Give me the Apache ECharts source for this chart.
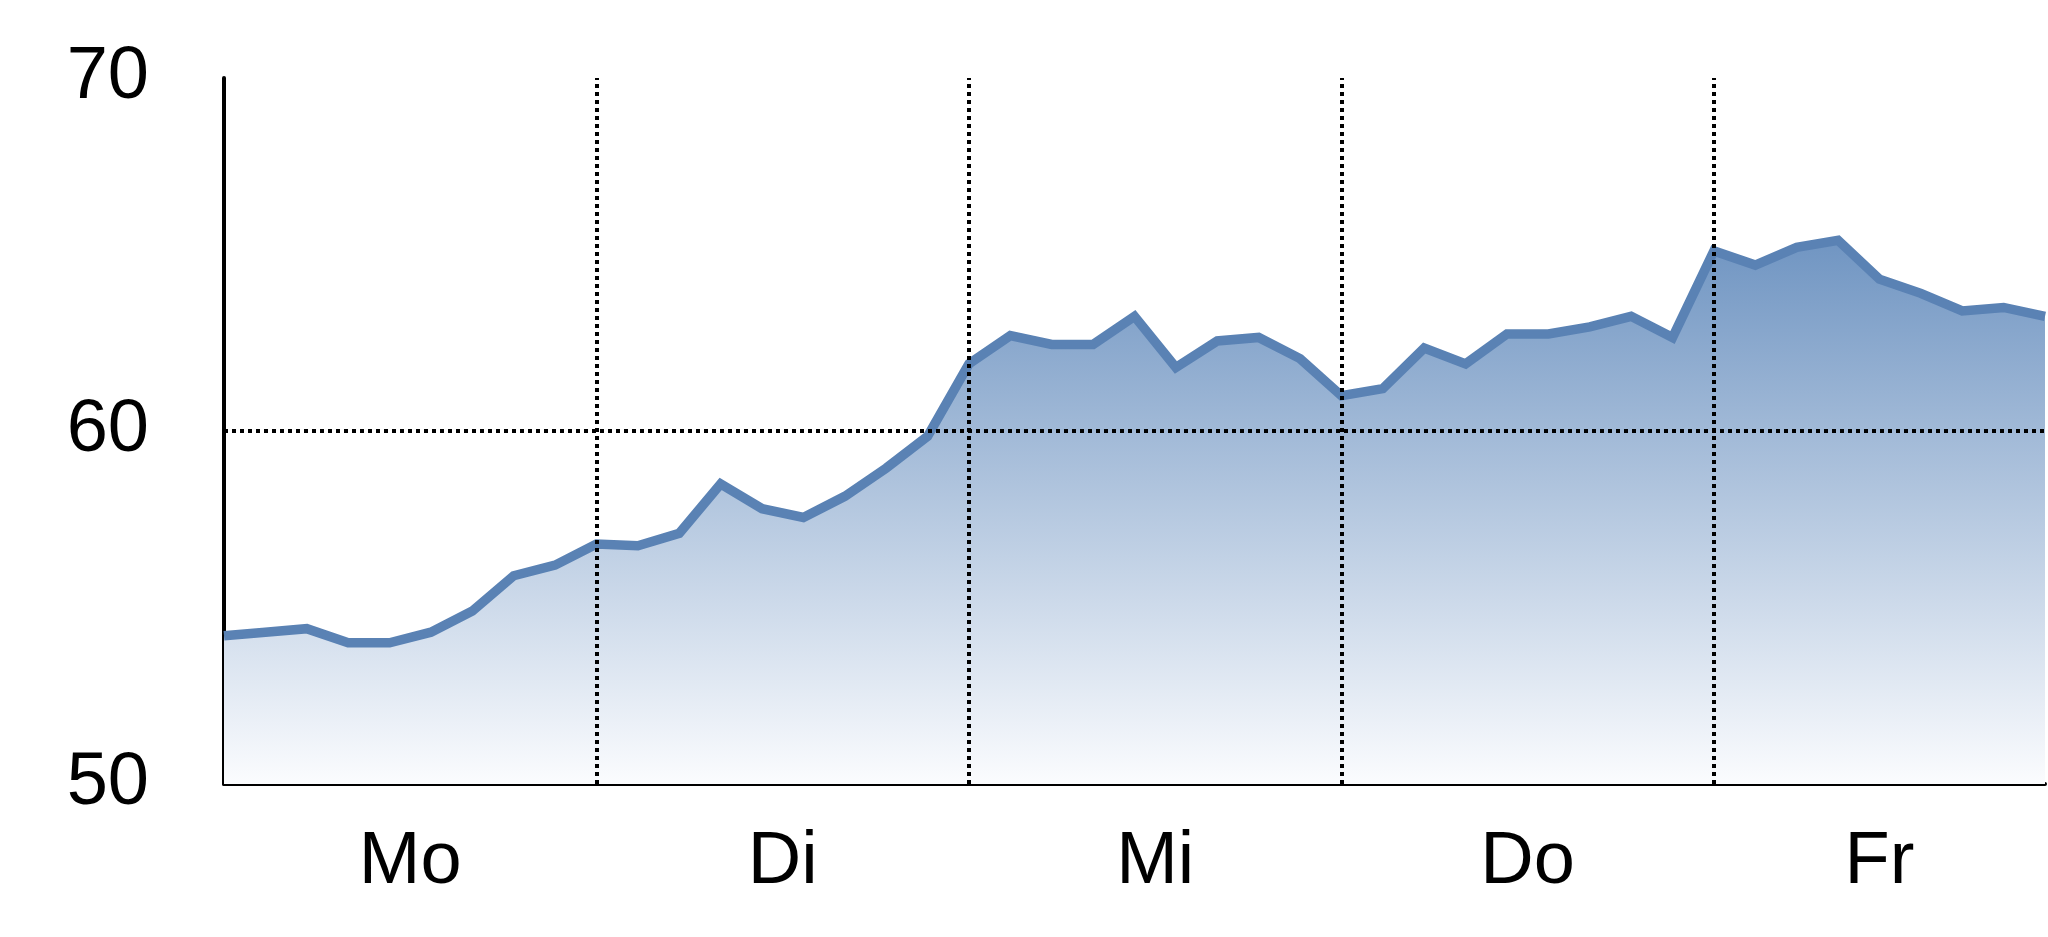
<!DOCTYPE html>
<html>
<head>
<meta charset="utf-8">
<title>Woche</title>
<script src="https://cdn.jsdelivr.net/npm/echarts@6/dist/echarts.min.js"></script>
<style>
  html, body { margin: 0; padding: 0; background: #fff; }
  #main { width: 2048px; height: 937px; }
</style>
</head>
<body>
<div id="main"></div>
<script>
// Wochentage und Werte (9 Intervalle pro Tag, Freitag abgeschnitten)
const days = ['Mo', 'Di', 'Mi', 'Do', 'Fr']
const stepsPerDay = 9
const values = [
  54.2, 54.3, 54.4, 54.0, 54.0, 54.3, 54.9, 55.9, 56.2,
  56.8, 56.75, 57.1, 58.5, 57.8, 57.55, 58.15, 58.95, 59.85,
  61.9, 62.7, 62.45, 62.45, 63.25, 61.8, 62.55, 62.65, 62.05,
  61.0, 61.2, 62.35, 61.9, 62.75, 62.75, 62.95, 63.25, 62.65,
  65.1, 64.7, 65.2, 65.4, 64.3, 63.9, 63.4, 63.5, 63.25
]
const yTicks = [50, 60, 70]
const refLine = 60

const lastIdx = values.length - 1
const seriesData = values.map((v, i) => [i, v])

// Tagesgrenzen und Labelpositionen (Mitte des sichtbaren Tagesabschnitts)
const dayStarts = days.map((d, i) => i * stepsPerDay)
const dayCenters = dayStarts.map(s => (s + Math.min(s + stepsPerDay, lastIdx)) / 2)
const boundaries = dayStarts.slice(1)

const font = '"Liberation Sans Narrow", "Liberation Sans", Arial, sans-serif'
const dotted = { color: '#000', width: 4, type: [4, 4] }

let myChart = echarts.init(document.getElementById('main'))

myChart.setOption({
  animation: false,
  backgroundColor: '#fff',
  grid: { left: 224, right: 3, top: 78, bottom: 153, outerBoundsMode: 'none' },
  xAxis: {
    type: 'value',
    min: 0,
    max: lastIdx,
    axisLine: { show: true, onZero: false, lineStyle: { color: '#000', width: 4 } },
    axisTick: { show: false },
    splitLine: { show: false },
    axisLabel: {
      customValues: dayCenters,
      formatter: v => days[dayCenters.indexOf(v)] || '',
      color: '#000',
      fontFamily: font,
      fontSize: 74,
      margin: 42
    }
  },
  yAxis: {
    type: 'value',
    min: yTicks[0],
    max: yTicks[yTicks.length - 1],
    interval: 10,
    axisLine: { show: true, lineStyle: { color: '#000', width: 4 } },
    axisTick: { show: false },
    splitLine: { show: false },
    axisLabel: {
      color: '#000',
      fontFamily: font,
      fontSize: 74,
      margin: 75
    }
  },
  series: [{
    type: 'line',
    data: seriesData,
    symbol: 'none',
    lineStyle: { color: '#5a82b4', width: 9.5, join: 'miter' },
    areaStyle: {
      opacity: 1,
      color: new echarts.graphic.LinearGradient(0, 0, 0, 1, [
        { offset: 0, color: '#7095c2' },
        { offset: 1, color: '#fbfcfe' }
      ])
    },
    markLine: {
      silent: true,
      symbol: ['none', 'none'],
      label: { show: false },
      lineStyle: dotted,
      emphasis: { disabled: true },
      data: boundaries.map(b => ({ xAxis: b })).concat([{ yAxis: refLine }])
    }
  }]
})

window.onresize = function() {
  myChart.resize()
}
</script>
</body>
</html>
